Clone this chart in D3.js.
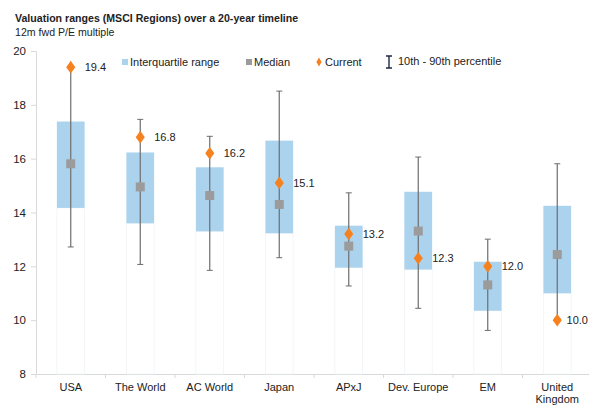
<!DOCTYPE html>
<html>
<head>
<meta charset="utf-8">
<script src="https://cdn.jsdelivr.net/npm/d3@7"></script>
<style>
  body { margin: 0; background: #fff; }
  text { font-family: "Liberation Sans", Arial, sans-serif; fill: #222; }
</style>
</head>
<body>
<div id="chart"></div>
<script>
"use strict";

var regions = ["USA", "The World", "AC World", "Japan", "APxJ", "Dev. Europe", "EM", "United Kingdom"];
var p10     = [12.72, 12.07, 11.85, 12.32, 11.27, 10.44, 9.62, 10.07];
var q1      = [14.17, 13.60, 13.30, 13.23, 11.95, 11.88, 10.35, 11.00];
var median  = [15.81, 14.95, 14.63, 14.30, 12.75, 13.31, 11.31, 12.44];
var q3      = [17.38, 16.23, 15.68, 16.67, 13.51, 14.77, 12.17, 14.25];
var p90     = [19.40, 17.46, 16.83, 18.51, 14.73, 16.06, 13.01, 15.81];
var current = [19.4, 16.8, 16.2, 15.1, 13.2, 12.3, 12.0, 10.0];
var yTicks  = [8, 10, 12, 14, 16, 18, 20];

var width = 589, height = 405;
var margin = {top: 51, right: 0, bottom: 31, left: 36};
var plotRight = 592;

var svg = d3.select("#chart").append("svg")
            .attr("width", width)
            .attr("height", height);

var rows = regions.map(function(r, i){
  return {name: r, p10: p10[i], q1: q1[i], med: median[i], q3: q3[i], p90: p90[i], cur: current[i]};
});

var x = d3.scaleBand()
          .domain(regions)
          .range([margin.left, plotRight])
          .paddingInner(0.6).paddingOuter(0.3);

var y = d3.scaleLinear()
          .domain([8, 20])
          .range([height - margin.bottom, margin.top]);

// title
svg.append("text").attr("x", 15).attr("y", 22)
   .style("font-size", "10.6px").style("font-weight", "bold")
   .text("Valuation ranges (MSCI Regions) over a 20-year timeline");
svg.append("text").attr("x", 15).attr("y", 36)
   .style("font-size", "10.6px")
   .text("12m fwd P/E multiple");

// y axis
var yAxis = svg.append("g")
               .attr("transform", "translate(" + margin.left + ",0)")
               .call(d3.axisLeft(y).tickValues(yTicks).tickSize(5).tickFormat(d3.format("d")));
yAxis.select(".domain").attr("stroke", "#d9d9d9");
yAxis.selectAll(".tick line").attr("stroke", "#d9d9d9");
yAxis.selectAll(".tick text").attr("x", -10).style("font-size", "11.5px")
     .style("font-family", "Liberation Sans, Arial, sans-serif").attr("fill", "#222");

// x axis
var xAxis = svg.append("g")
               .attr("transform", "translate(0," + y(8) + ")")
               .call(d3.axisBottom(x).tickSize(0).tickFormat(""));
xAxis.select(".domain").attr("stroke", "#d9d9d9");
var step = x.step();
xAxis.selectAll(".sep")
     .data(d3.range(regions.length + 1))
     .enter().append("line")
     .attr("x1", function(i){ return margin.left + i * step; })
     .attr("x2", function(i){ return margin.left + i * step; })
     .attr("y1", 0).attr("y2", 4)
     .attr("stroke", "#d9d9d9");

svg.selectAll(".xlab")
   .data(rows).enter().append("text")
   .attr("text-anchor", "middle")
   .style("font-size", "11px")
   .attr("x", function(d){ return x(d.name) + x.bandwidth() / 2; })
   .attr("y", y(8) + 17)
   .each(function(d){
     var words = d.name === "United Kingdom" ? ["United", "Kingdom"] : [d.name];
     var t = d3.select(this);
     words.forEach(function(w, k){
       t.append("tspan").attr("x", x(d.name) + x.bandwidth() / 2)
        .attr("dy", k === 0 ? 0 : 11.5).text(w);
     });
   });

// faint lower bars
var g = svg.append("g");
g.selectAll(".base").data(rows).enter().append("rect")
 .attr("x", function(d){ return x(d.name); })
 .attr("width", x.bandwidth())
 .attr("y", function(d){ return y(d.q1); })
 .attr("height", function(d){ return y(8) - y(d.q1); })
 .attr("fill", "#ffffff").attr("stroke", "#eef4f8").attr("stroke-width", 0.8);

// interquartile boxes
g.selectAll(".iqr").data(rows).enter().append("rect")
 .attr("x", function(d){ return x(d.name); })
 .attr("width", x.bandwidth())
 .attr("y", function(d){ return y(d.q3); })
 .attr("height", function(d){ return y(d.q1) - y(d.q3); })
 .attr("fill", "#acd3ee");

// whiskers
var cx = function(d){ return x(d.name) + x.bandwidth() / 2; };
g.selectAll(".wh").data(rows).enter().append("line")
 .attr("x1", cx).attr("x2", cx)
 .attr("y1", function(d){ return y(d.p90); })
 .attr("y2", function(d){ return y(d.p10); })
 .attr("stroke", "#6d6d6d").attr("stroke-width", 1.2);
["p10", "p90"].forEach(function(k){
  g.selectAll(".cap" + k).data(rows).enter().append("line")
   .attr("x1", function(d){ return cx(d) - 3; })
   .attr("x2", function(d){ return cx(d) + 3; })
   .attr("y1", function(d){ return y(d[k]); })
   .attr("y2", function(d){ return y(d[k]); })
   .attr("stroke", "#6d6d6d").attr("stroke-width", 1);
});

// medians
g.selectAll(".med").data(rows).enter().append("rect")
 .attr("x", function(d){ return cx(d) - 4.5; })
 .attr("y", function(d){ return y(d.med) - 4.5; })
 .attr("width", 9).attr("height", 9)
 .attr("fill", "#9b9b9b");

// current
var diamond = d3.symbol().type(d3.symbolDiamond).size(46);
g.selectAll(".cur").data(rows).enter().append("path")
 .attr("d", diamond)
 .attr("transform", function(d){ return "translate(" + cx(d) + "," + y(d.cur) + ") scale(1.25,1)"; })
 .attr("fill", "#f5821f");

// value labels, pulled in when they'd run off the right edge
g.selectAll(".curlab").data(rows).enter().append("text")
 .attr("y", function(d){ return y(d.cur) + 4; })
 .style("font-size", "11px")
 .text(function(d){ return d3.format(".1f")(d.cur); })
 .attr("x", function(d){
   var w = this.getComputedTextLength();
   return Math.min(cx(d) + 14, width - w - 1);
 });

// legend
var ly = 62;
var leg = svg.append("g").style("font-size", "11px");
leg.append("rect").attr("x", 122).attr("y", ly - 3).attr("width", 6).attr("height", 6).attr("fill", "#acd3ee");
leg.append("text").attr("x", 130).attr("y", ly + 4).text("Interquartile range");
leg.append("rect").attr("x", 246).attr("y", ly - 3).attr("width", 6).attr("height", 6).attr("fill", "#9b9b9b");
leg.append("text").attr("x", 254).attr("y", ly + 4).text("Median");
leg.append("path").attr("d", d3.symbol().type(d3.symbolDiamond).size(24))
   .attr("transform", "translate(319," + ly + ")").attr("fill", "#f5821f");
leg.append("text").attr("x", 325).attr("y", ly + 4).text("Current");
leg.append("path")
   .attr("d", "M386," + (ly - 6) + "H392M389," + (ly - 6) + "V" + (ly + 6) + "M386," + (ly + 6) + "H392")
   .attr("stroke", "#1f2a44").attr("stroke-width", 1.4).attr("fill", "none");
leg.append("text").attr("x", 398).attr("y", ly + 3).text("10th - 90th percentile");
</script>
</body>
</html>
